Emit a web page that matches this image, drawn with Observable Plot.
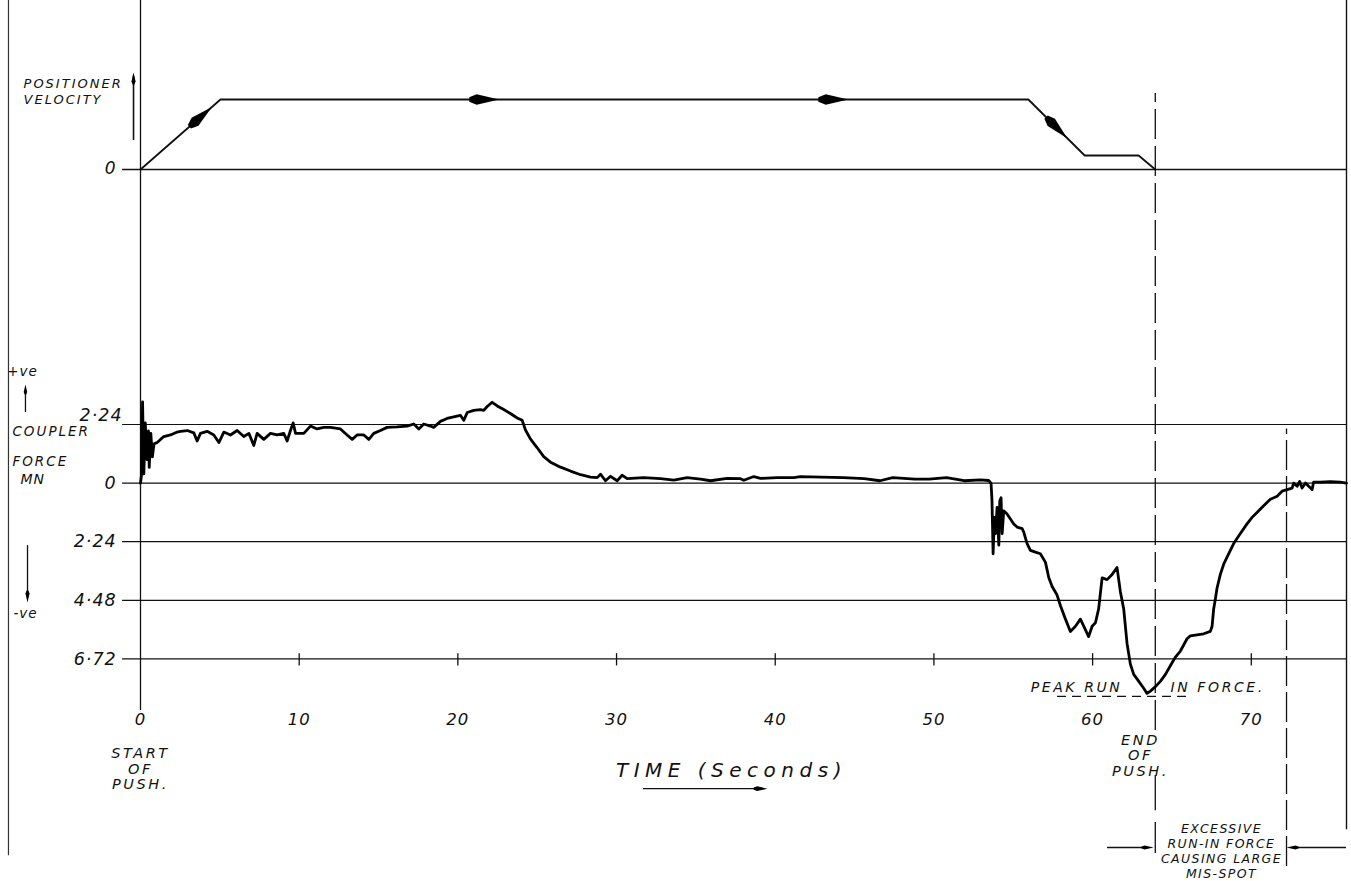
<!DOCTYPE html>
<html>
<head>
<meta charset="utf-8">
<script src="https://cdn.jsdelivr.net/npm/d3@7"></script>
<script src="https://cdn.jsdelivr.net/npm/@observablehq/plot@0.6"></script>
<style>
  html, body { margin: 0; padding: 0; background: #fff; overflow: hidden; }
  #chart svg { display: block; }
  #chart svg text { letter-spacing: 1px; }
  #chart text[aria-label="time-title"] { letter-spacing: 5.5px; }
  #chart text[aria-label="side-label"] { letter-spacing: 2px; }
  #chart text[aria-label="caption"] { letter-spacing: 2.6px; }
  #chart text[aria-label="caption-small"] { letter-spacing: 1.4px; }
</style>
</head>
<body>
<div id="chart"></div>
<script>
// ---------------- DATA ----------------
// Positioner velocity profile (relative units, 1 = full speed)
const velTime  = [0, 5.04, 55.95, 59.5, 62.9, 63.95];
const velLevel = [0, 1, 1, 0.2, 0.2, 0];
const velArrowTimes = [4.5, 22.6, 44.6, 58.4];

// Coupler force trace, MN (positive = +ve above zero)
const forceTime = [
  0.00, 0.06, 0.13, 0.21, 0.30, 0.40, 0.50, 0.55, 0.65, 0.75, 0.85, 1.05, 1.26, 1.47, 1.89,
  2.31, 2.52, 2.94, 3.36, 3.57, 3.78, 4.20, 4.62, 4.94, 5.25, 5.67, 6.09, 6.51, 6.83, 7.14,
  7.35, 7.77, 8.19, 8.61, 9.03, 9.24, 9.45, 9.62, 9.77, 10.29, 10.71, 11.13, 11.55, 11.97, 12.60,
  13.02, 13.34, 13.65, 14.07, 14.39, 14.70, 15.12, 15.54, 16.17, 16.81, 17.22, 17.54, 17.85, 18.27, 18.48,
  18.90, 19.32, 19.74, 20.16, 20.37, 20.59, 21.00, 21.42, 21.63, 21.85, 22.16, 22.48, 22.89, 23.31, 23.74,
  24.05, 24.26, 24.57, 25.00, 25.41, 25.84, 26.47, 27.10, 27.73, 28.36, 28.78, 28.99, 29.30, 29.62, 30.04,
  30.35, 30.67, 31.71, 32.77, 33.61, 34.45, 35.29, 35.92, 36.97, 37.81, 38.02, 38.65, 39.07, 40.12, 41.17,
  41.59, 42.90, 44.30, 45.60, 46.60, 47.40, 48.80, 49.70, 50.80, 51.90, 52.93, 53.45, 53.60, 53.66, 53.73,
  53.81, 53.88, 53.98, 54.09, 54.15, 54.23, 54.30, 54.40, 54.61, 54.82, 55.03, 55.24, 55.56, 55.66, 55.87,
  56.08, 56.40, 56.71, 57.03, 57.24, 57.45, 57.76, 57.97, 58.29, 58.60, 58.92, 59.23, 59.44, 59.75, 59.97,
  60.18, 60.38, 60.60, 60.91, 61.23, 61.54, 61.75, 61.96, 62.17, 62.38, 62.59, 62.91, 63.22, 63.43, 63.64,
  63.96, 64.27, 64.59, 64.90, 65.22, 65.53, 65.74, 65.95, 66.16, 66.58, 67.00, 67.42, 67.53, 67.63, 67.74,
  67.84, 68.05, 68.26, 68.58, 68.89, 69.31, 69.73, 70.05, 70.36, 70.78, 71.20, 71.63, 71.94, 72.26, 72.57,
  72.67, 72.89, 73.05, 73.20, 73.41, 73.62, 73.83, 73.93, 74.35, 74.98, 75.61, 76.00
];
const forceMN = [
  0.00, 0.30, 3.10, 0.35, 2.30, 0.90, 2.00, 0.60, 1.90, 1.00, 1.50, 1.55, 1.67, 1.78, 1.84,
  1.95, 1.98, 2.01, 1.92, 1.61, 1.90, 1.98, 1.84, 1.55, 1.95, 1.84, 2.01, 1.78, 1.90, 1.44,
  1.90, 1.67, 1.90, 1.84, 1.90, 1.61, 2.01, 2.30, 1.90, 1.90, 2.18, 2.07, 2.13, 2.13, 2.07,
  1.84, 1.67, 1.84, 1.84, 1.67, 1.90, 2.01, 2.13, 2.15, 2.18, 2.26, 2.07, 2.26, 2.18, 2.13,
  2.36, 2.47, 2.53, 2.59, 2.40, 2.70, 2.78, 2.81, 2.78, 2.93, 3.09, 2.95, 2.81, 2.66, 2.49,
  2.40, 2.03, 1.69, 1.35, 1.01, 0.80, 0.61, 0.46, 0.32, 0.23, 0.21, 0.34, 0.09, 0.26, 0.09,
  0.30, 0.17, 0.21, 0.17, 0.11, 0.21, 0.15, 0.09, 0.18, 0.17, 0.11, 0.25, 0.18, 0.21, 0.21,
  0.25, 0.23, 0.21, 0.17, 0.09, 0.21, 0.15, 0.15, 0.21, 0.09, 0.12, 0.10, 0.00, -0.68, -2.70,
  -1.31, -1.93, -0.93, -2.37, -0.68, -0.56, -1.93, -1.06, -1.18, -1.37, -1.56, -1.68, -1.74, -1.87, -2.31,
  -2.57, -2.64, -2.70, -3.03, -3.62, -3.95, -4.28, -4.68, -5.20, -5.67, -5.47, -5.20, -5.47, -5.87, -5.47,
  -5.34, -4.81, -3.62, -3.69, -3.49, -3.23, -4.15, -4.81, -6.13, -6.92, -7.31, -7.58, -7.84, -8.04, -7.95,
  -7.78, -7.58, -7.31, -6.98, -6.65, -6.42, -6.19, -5.95, -5.84, -5.80, -5.76, -5.67, -5.47, -4.81, -4.41,
  -4.02, -3.49, -3.10, -2.70, -2.31, -1.93, -1.56, -1.31, -1.12, -0.87, -0.62, -0.50, -0.31, -0.25, -0.19,
  0.00, -0.12, 0.06, -0.19, 0.00, -0.12, -0.25, 0.04, 0.04, 0.06, 0.04, 0.00
];

const forceTicks = [2.24, 0, -2.24, -4.48, -6.72];
const timeTicks = [0, 10, 20, 30, 40, 50, 60, 70];

const endOfPushTime = 63.95;
const misSpotTime = 72.22;
const recordEndTime = 76;
const peakRunInMN = -8.15;

// ---------------- LAYOUT ----------------
const W = 1351, topH = 250, botH = 631;
const xDomain = [0, 76], xRange = [140, 1346];
const pxPerSec = (xRange[1] - xRange[0]) / (xDomain[1] - xDomain[0]);
const velRange = [169, 99];                      // px for velocity 0 .. 1
const pxPerVel = velRange[0] - velRange[1];
const velEdges = [-(topH - velRange[0]) / pxPerVel, velRange[0] / pxPerVel];
const forceDomain = [-6.72, 2.24];
const forceRange = [408.4, 174.0];               // local px in lower panel
const pxPerMN = (forceRange[0] - forceRange[1]) / (forceDomain[1] - forceDomain[0]);
const forceEdges = [forceDomain[0] - (botH - forceRange[0]) / pxPerMN, forceDomain[1] + forceRange[1] / pxPerMN];
const leftBorder = -8.32, gridStart = -1.13, labelEnd = -1.5;

const ink = "#111";
const hand = {fontFamily: "DejaVu Sans", fontStyle: "italic", fill: ink};
const tag = name => ({ariaLabel: () => name});

// elongated filled arrowhead, tip at origin, pointing "up" before rotation
const arrowHead = {
  draw(ctx, size) {
    const r = Math.sqrt(size / Math.PI);
    const L = 4.6 * r, w = 0.8 * r;
    ctx.moveTo(0, 0);
    ctx.lineTo(w, L * 0.75);
    ctx.lineTo(w * 0.45, L);
    ctx.lineTo(-w * 0.45, L);
    ctx.lineTo(-w, L * 0.75);
    ctx.closePath();
  }
};

// ---------------- TOP PANEL (velocity) ----------------
const velRows = velTime.map((t, i) => ({t, v: velLevel[i]}));
function velSegment(t) {
  for (let i = 0; i < velTime.length - 1; i++) {
    if (t >= velTime[i] && t <= velTime[i + 1]) return i;
  }
  return velTime.length - 2;
}
const velArrows = velArrowTimes.map(t => {
  const i = velSegment(t);
  const t0 = velTime[i], t1 = velTime[i + 1], v0 = velLevel[i], v1 = velLevel[i + 1];
  const v = v0 + (v1 - v0) * (t - t0) / (t1 - t0);
  const dx = (t1 - t0) * pxPerSec, dy = -(v1 - v0) * pxPerVel;
  const angle = Math.atan2(dx, -dy) * 180 / Math.PI;
  return {t, v, angle};
});

const topPlot = Plot.plot({
  width: W, height: topH, margin: 0,
  x: {domain: xDomain, range: xRange, axis: null},
  y: {domain: [0, 1], range: velRange, axis: null},
  style: {background: "white"},
  marks: [
    Plot.ruleX([leftBorder], {x: d => d, y1: velEdges[0], y2: velEdges[1], stroke: "#333", strokeWidth: 1.2}),
    Plot.ruleX([0], {x: d => d, y1: velEdges[0], y2: velEdges[1], stroke: ink, strokeWidth: 1.3}),
    Plot.ruleX([recordEndTime], {x: d => d, y1: velEdges[0], y2: velEdges[1], stroke: ink, strokeWidth: 1.4}),
    Plot.ruleX([endOfPushTime], {x: d => d, y1: velEdges[0], y2: 1.086, stroke: ink, strokeWidth: 1.3, strokeDasharray: "30,7"}),
    Plot.ruleY([0], {y: d => d, x1: gridStart, x2: recordEndTime, stroke: ink, strokeWidth: 1.3}),
    Plot.line(velRows, {x: "t", y: "v", stroke: ink, strokeWidth: 1.8}),
    Plot.dot(velArrows, {x: "t", y: "v", rotate: "angle", symbol: arrowHead, r: 6.5, fill: "#000", stroke: "none"}),
    Plot.ruleX([-0.44], {x: d => d, y1: 0.414, y2: 1.33, stroke: ink, strokeWidth: 1.6}),
    Plot.dot([{t: -0.44, v: 1.386}], {x: "t", y: "v", rotate: 0, symbol: arrowHead, r: 2.6, fill: "#000", stroke: "none"}),
    Plot.text(["POSITIONER\nVELOCITY"], {x: leftBorder + 0.95, y: 1.129, text: d => d, textAnchor: "start", lineAnchor: "middle", fontSize: 13, lineHeight: 1.25, ...tag("side-label"), ...hand}),
    Plot.text(["0"], {x: labelEnd, y: 0.02, text: d => d, textAnchor: "end", fontSize: 17, ...hand})
  ]
});

// ---------------- BOTTOM PANEL (coupler force) ----------------
const forceRows = forceTime.map((t, i) => ({t, f: forceMN[i]}));
const tickLabel = d => d === 0 ? "0" : Math.abs(d).toFixed(2).replace(".", "·");

const botPlot = Plot.plot({
  width: W, height: botH, margin: 0,
  x: {domain: xDomain, range: xRange, axis: null},
  y: {domain: forceDomain, range: forceRange, axis: null},
  style: {background: "white"},
  marks: [
    // frame-like verticals
    Plot.ruleX([leftBorder], {x: d => d, y1: -14.24, y2: forceEdges[1], stroke: "#333", strokeWidth: 1.2}),
    Plot.ruleX([0], {x: d => d, y1: -8.69, y2: forceEdges[1], stroke: ink, strokeWidth: 1.3}),
    Plot.ruleX([recordEndTime], {x: d => d, y1: -13.25, y2: forceEdges[1], stroke: ink, strokeWidth: 1.4}),
    Plot.ruleX([endOfPushTime], {x: d => d, y1: -9.46, y2: forceEdges[1], stroke: ink, strokeWidth: 1.3, strokeDasharray: "30,7"}),
    Plot.ruleX([endOfPushTime, endOfPushTime], {x: d => d, y1: [-11.18, -12.97], y2: [-12.52, -14.16], stroke: ink, strokeWidth: 1.3}),
    Plot.ruleX([misSpotTime], {x: d => d, y1: -14.66, y2: 2.07, stroke: ink, strokeWidth: 1.3, strokeDasharray: "30,6"}),
    // grid
    Plot.ruleY(forceTicks, {y: d => d, x1: gridStart, x2: recordEndTime, stroke: ink, strokeWidth: 1.2}),
    Plot.ruleX(timeTicks.filter(d => d > 0), {x: d => d, y1: forceDomain[0] - 0.27, y2: forceDomain[0] + 0.2, stroke: ink, strokeWidth: 1.3}),
    // trace
    Plot.line(forceRows, {x: "t", y: "f", stroke: "#000", strokeWidth: 2.8, strokeLinejoin: "round"}),
    // peak marker
    Plot.ruleY([peakRunInMN], {y: d => d, x1: 57.79, x2: 66.17, stroke: ink, strokeWidth: 1.2, strokeDasharray: "9,6"}),
    Plot.text(["PEAK RUN"], {x: 61.88, y: -7.81, text: d => d, textAnchor: "end", fontSize: 14, ...tag("caption"), ...hand}),
    Plot.text(["IN FORCE."], {x: 64.91, y: -7.81, text: d => d, textAnchor: "start", fontSize: 14, ...tag("caption"), ...hand}),
    // y tick labels
    Plot.text(forceTicks.filter(d => d !== forceDomain[1]), {x: labelEnd, y: d => d, text: tickLabel, textAnchor: "end", fontSize: 17.5, ...hand}),
    Plot.text([forceDomain[1]], {x: gridStart, y: 2.58, text: tickLabel, textAnchor: "end", fontSize: 17.5, ...hand}),
    // x tick labels
    Plot.text(timeTicks, {x: d => d, y: -9.04, text: d => String(d), textAnchor: "middle", fontSize: 16.5, ...hand}),
    // side labels
    Plot.text(["+ve"], {x: -7.44, y: 4.27, text: d => d, fontSize: 13.5, ...hand}),
    Plot.ruleX([-7.25], {x: d => d, y1: 2.70, y2: 3.55, stroke: ink, strokeWidth: 1.3}),
    Plot.dot([{t: -7.25, f: 3.77}], {x: "t", y: "f", rotate: 0, symbol: arrowHead, r: 2.2, fill: "#000", stroke: "none"}),
    Plot.text(["-ve"], {x: -7.25, y: -4.99, text: d => d, fontSize: 13.5, ...hand}),
    Plot.ruleX([-7.12], {x: d => d, y1: -2.39, y2: -4.2, stroke: ink, strokeWidth: 1.3}),
    Plot.dot([{t: -7.12, f: -4.56}], {x: "t", y: "f", rotate: 180, symbol: arrowHead, r: 2.6, fill: "#000", stroke: "none"}),
    Plot.text(["COUPLER"], {x: -8.07, y: 1.97, text: d => d, textAnchor: "start", fontSize: 13.5, ...tag("side-label"), ...hand}),
    Plot.text(["FORCE"], {x: -8.07, y: 0.83, text: d => d, textAnchor: "start", fontSize: 13.5, ...tag("side-label"), ...hand}),
    Plot.text(["MN"], {x: -7.56, y: 0.14, text: d => d, textAnchor: "start", fontSize: 14, ...hand}),
    // bottom annotations
    Plot.text(["START\nOF\nPUSH."], {x: 0, y: -10.91, text: d => d, lineAnchor: "middle", fontSize: 14.5, lineHeight: 1.08, ...tag("caption"), ...hand}),
    Plot.text(["END\nOF\nPUSH."], {x: 63.02, y: -10.41, text: d => d, lineAnchor: "middle", fontSize: 14.5, lineHeight: 1.08, ...tag("caption"), ...hand}),
    Plot.text(["TIME (Seconds)"], {x: 37.24, y: -10.99, text: d => d, fontSize: 20, ...tag("time-title"), ...hand}),
    Plot.ruleY([-11.68], {y: d => d, x1: 31.70, x2: 38.9, stroke: ink, strokeWidth: 1.3}),
    Plot.dot([{t: 39.51, f: -11.68}], {x: "t", y: "f", rotate: 90, symbol: arrowHead, r: 3, fill: "#000", stroke: "none"}),
    Plot.text(["EXCESSIVE\nRUN-IN FORCE\nCAUSING LARGE\nMIS-SPOT"], {x: 68.12, y: -14.07, text: d => d, lineAnchor: "middle", fontSize: 12.5, lineHeight: 1.2, ...tag("caption-small"), ...hand}),
    Plot.ruleY([-13.93], {y: d => d, x1: 60.94, x2: 63.2, stroke: ink, strokeWidth: 1.3}),
    Plot.dot([{t: 63.84, f: -13.93}], {x: "t", y: "f", rotate: 90, symbol: arrowHead, r: 2.6, fill: "#000", stroke: "none"}),
    Plot.ruleY([-13.93], {y: d => d, x1: 72.9, x2: recordEndTime, stroke: ink, strokeWidth: 1.3}),
    Plot.dot([{t: misSpotTime, f: -13.93}], {x: "t", y: "f", rotate: -90, symbol: arrowHead, r: 2.6, fill: "#000", stroke: "none"})
  ]
});

const chart = document.getElementById("chart");
chart.append(topPlot, botPlot);
</script>
</body>
</html>
